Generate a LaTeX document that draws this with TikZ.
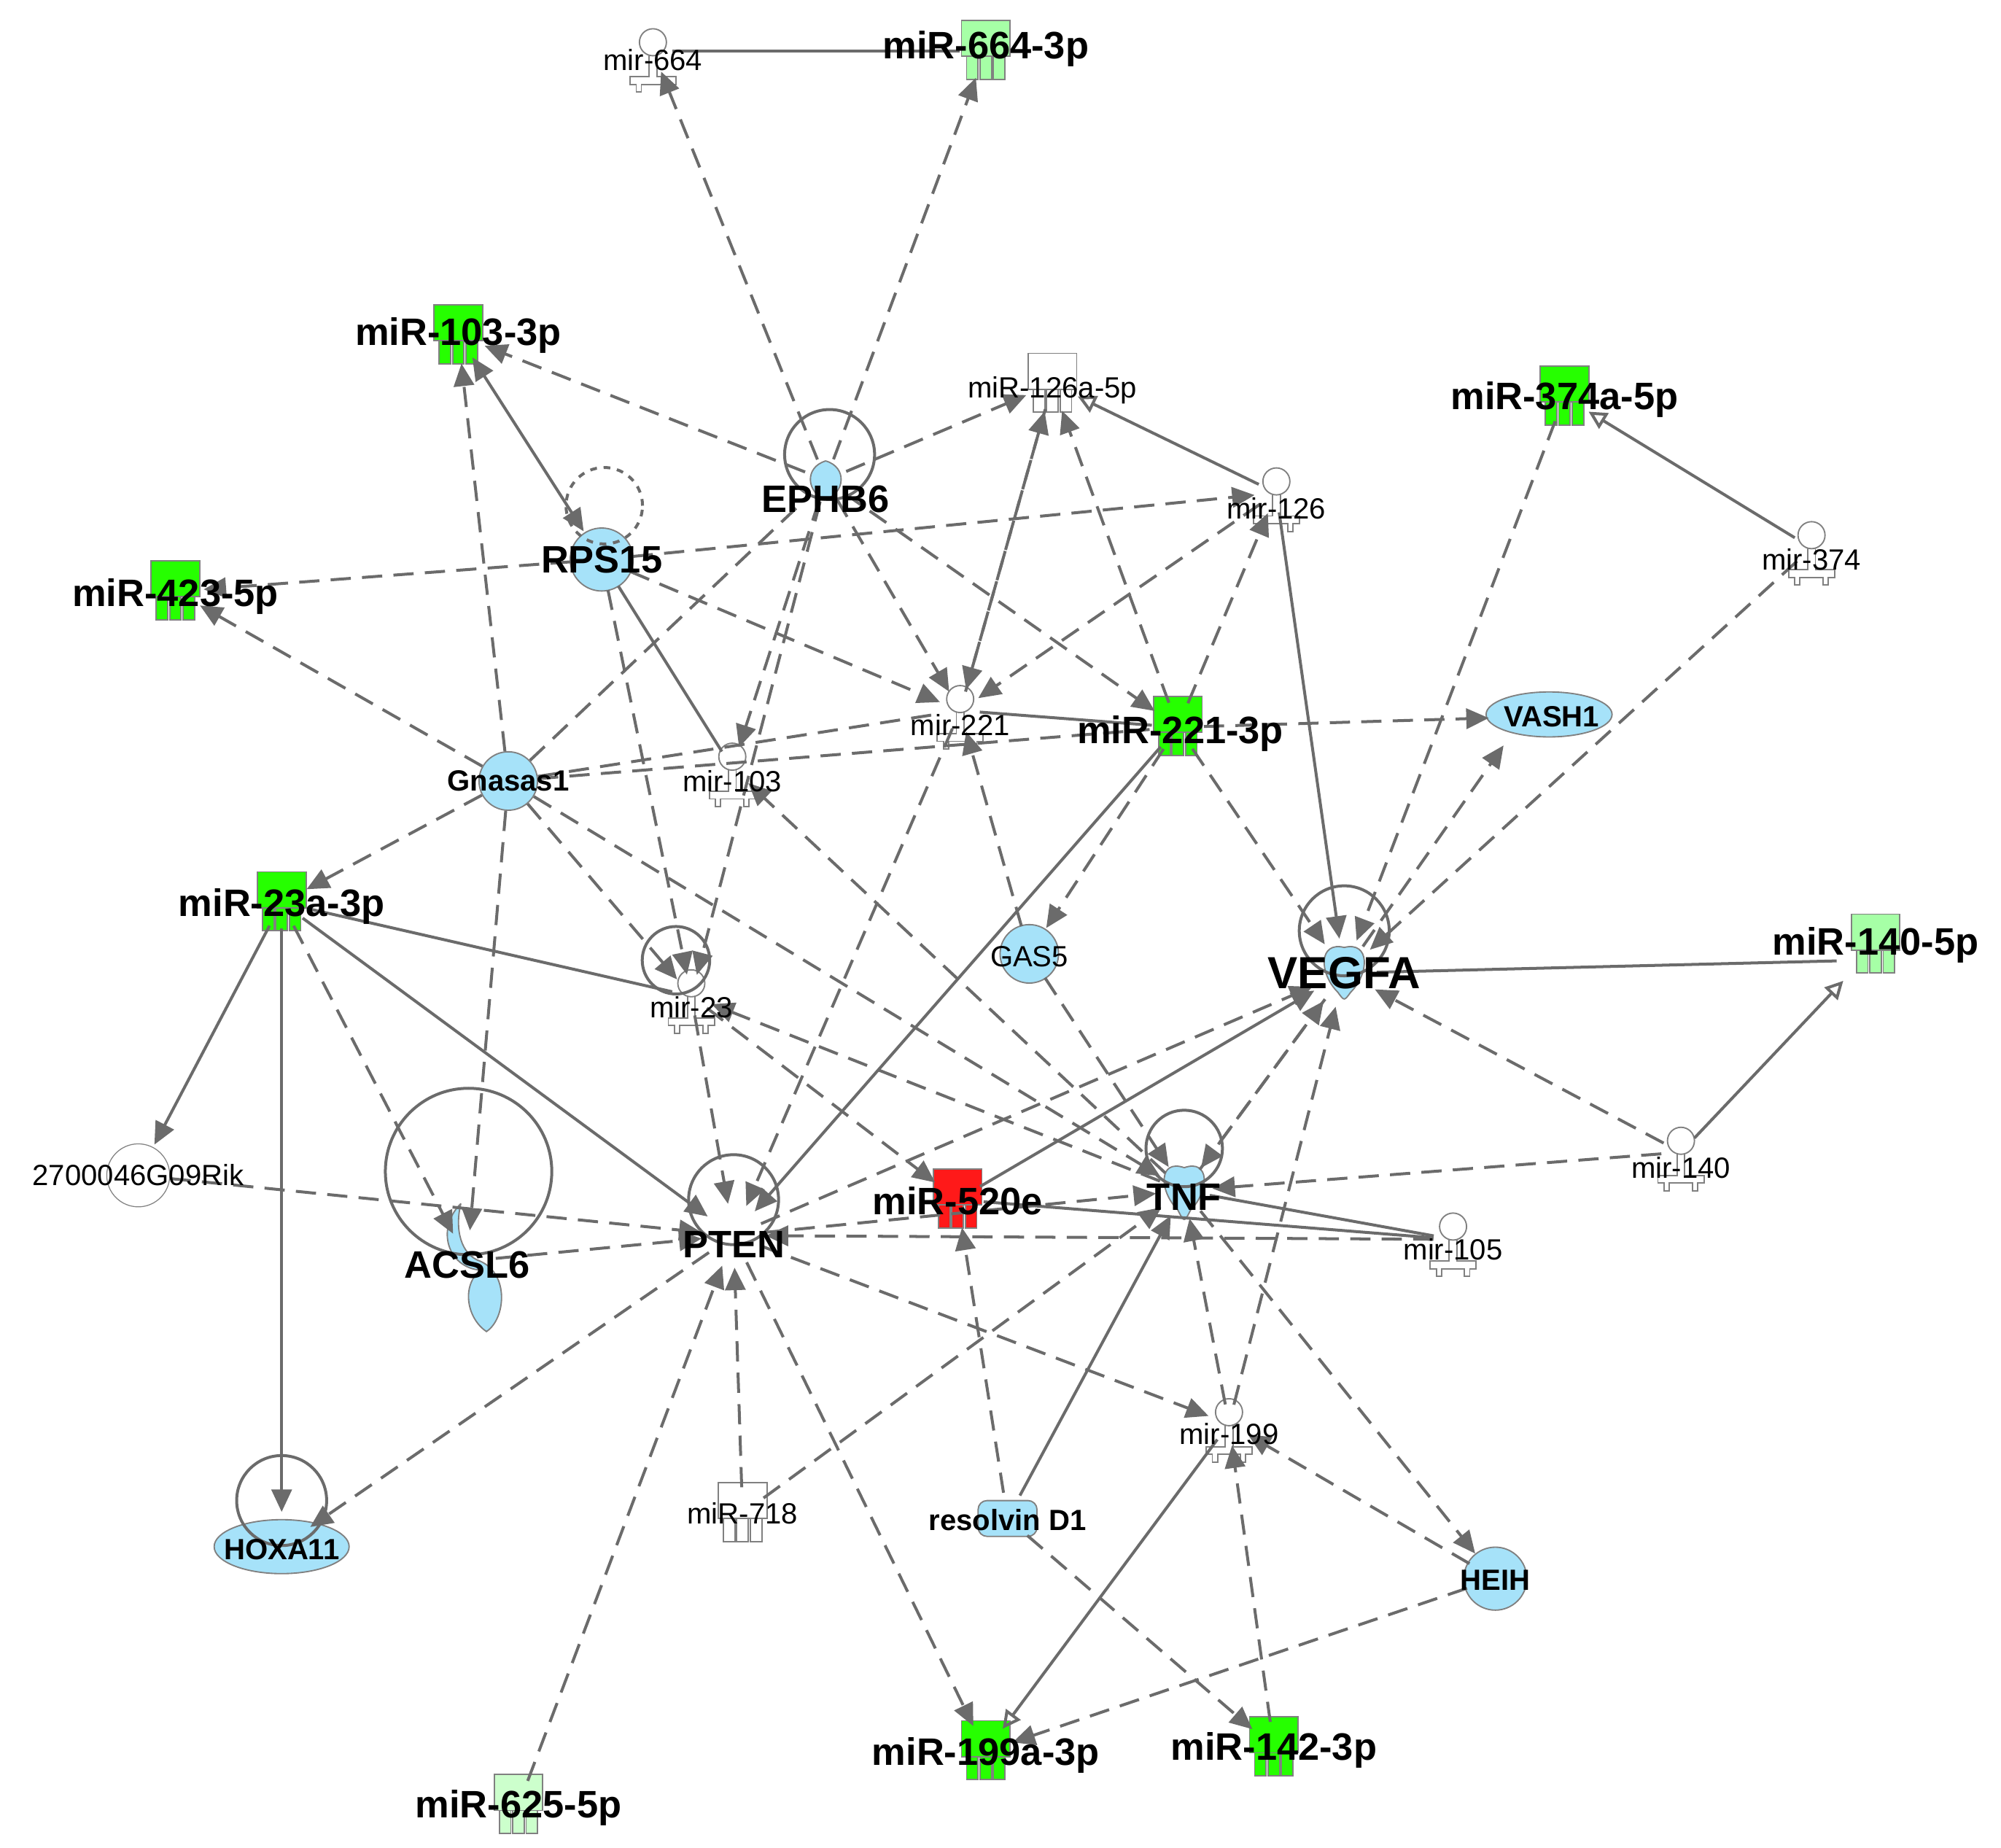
\documentclass[tikz,border=0pt]{standalone}
\usepackage{fontspec}
\setmainfont{Liberation Sans}
\usetikzlibrary{arrows.meta,calc}
\begin{document}
\begin{tikzpicture}[x=0.02cm,y=-0.02cm,
 hub/.style={circle,inner sep=0pt,minimum size=#1*0.02cm},
 ed/.style={draw=black!58,line width=1.3pt,-{Triangle[length=10pt,width=9pt]},shorten >=1pt},
 da/.style={ed,dash pattern=on 9pt off 5pt},
 so/.style={ed},
 sl/.style={draw=black!58,line width=1.3pt},
 big/.style={font=\bfseries\fontsize{17}{17}\selectfont},
 sml/.style={font=\fontsize{13}{13}\selectfont},
 cy/.style={fill=cyan!35,draw=black!50,line width=0.6pt},
 gr/.style={fill=green!80!lime},
 lgr/.style={fill=green!35},
 rd/.style={fill=red!90}]
\useasboundingbox (0,0) rectangle (1563,1443);
\newcommand\mirsq[3]{\begin{scope}[shift={(#1,#2)}]
 \filldraw[#3,draw=black!50,line width=0.6pt] (-19,-24) rectangle (19,4);
 \foreach \i in {-15,-4.5,6}{\filldraw[#3,draw=black!50,line width=0.6pt] (\i,4) rectangle ++(9,18);}
 \end{scope}}
\newcommand\hairpin[2]{\begin{scope}[shift={(#1,#2)}]
 \draw[black!50,fill=white,line width=0.6pt] (-3,-8) -- (-3,10) -- (-18,10) -- (-18,16) -- (-13,16) -- (-13,22) -- (-9,22) -- (-9,16) -- (9,16) -- (9,22) -- (13,22) -- (13,16) -- (18,16) -- (18,10) -- (3,10) -- (3,-8);
 \draw[black!50,fill=white,line width=0.6pt] (0,-17) circle (6pt);
 \end{scope}}
% icons
\mirsq{770}{40}{lgr}\mirsq{358}{262}{gr}\mirsq{822}{300}{fill=white}\mirsq{1222}{310}{gr}
\mirsq{137}{462}{gr}\mirsq{920}{568}{gr}\mirsq{220}{705}{gr}\mirsq{1465}{738}{lgr}
\mirsq{748}{937}{rd}\mirsq{580}{1182}{fill=white}\mirsq{770}{1368}{gr}\mirsq{995}{1365}{gr}\mirsq{405}{1410}{fill=green!20}
\hairpin{510}{50}\hairpin{997}{393}\hairpin{1415}{435}\hairpin{750}{563}\hairpin{572}{608}
\hairpin{540}{785}\hairpin{1313}{908}\hairpin{1135}{975}\hairpin{960}{1120}
\fill[cy] (470,437) circle (14pt);
\fill[cy] (397,610) circle (13pt);
\fill[cy] (804,745) circle (13pt);
\fill[cy] (1168,1233) circle (14pt);
\draw[black!50,fill=white] (108,918) circle (14pt);
\fill[cy] (645,360) .. controls (628,365) and (630,385) .. (645,390) .. controls (660,385) and (662,365) .. (645,360);
\fill[cy] (1050,740) .. controls (1030,735) and (1030,760) .. (1045,775) .. controls (1050,782) and (1050,782) .. (1055,775) .. controls (1070,760) and (1070,735) .. (1050,740);
\fill[cy] (925,912) .. controls (905,905) and (905,930) .. (920,945) .. controls (925,955) and (925,955) .. (930,945) .. controls (945,930) and (945,905) .. (925,912);
\fill[cy] (1210,558) ellipse (28pt and 10pt);
\fill[cy] (360,940) .. controls (340,960) and (350,990) .. (375,992) .. controls (360,1005) and (365,1030) .. (380,1040) .. controls (395,1030) and (398,995) .. (375,985) .. controls (360,980) and (355,960) .. (360,940);
\fill[cy] (220,1208) ellipse (30pt and 12pt);
\fill[cy,rounded corners=4pt] (764,1172) rectangle (810,1200);
% self loops
\draw[sl] (648,355) circle (20pt);
\draw[sl,dashed] (472,395) circle (17pt);
\draw[sl] (366,915) circle (37pt);
\draw[sl] (573,937) circle (20pt);
\draw[sl] (925,897) circle (17pt);
\draw[sl] (1050,727) circle (20pt);
\draw[sl] (528,750) circle (15pt);
\draw[sl] (220,1172) circle (20pt);
% hub nodes
\foreach \n/\x/\y/\s in {m664/510/40/30,m664p/770/40/40,m103p/358/262/40,m126p/822/300/40,m374p/1222/310/40,ephb6/645/375/34,mi126/997/385/30,rps15/470/437/48,mi374/1415/428/30,m423p/137/462/40,mi221/750/555/30,m221p/920/568/40,vash1/1190/560/50,gnas/397/610/46,mi103/572/600/30,m23p/220/705/40,gas5/804/745/44,vegfa/1050/760/50,m140p/1455/750/40,mi23/540/778/30,rik/108/918/50,acsl6/365/985/44,pten/573/965/46,m520/748/937/40,tnf/925/930/40,mi140/1313/900/30,mi105/1135/968/30,mi199/960/1112/30,m718/580/1182/40,resol/787/1186/40,hoxa/220/1208/50,heih/1168/1233/46,m199p/770/1368/40,m142p/995/1365/40,m625p/405/1410/40}
 {\node[hub=\s] (\n) at (\x,\y) {};}
% solid edges
\draw[sl] (m664) -- (m664p);
\draw[so,{Triangle[length=10pt,width=9pt]}-{Triangle[length=10pt,width=9pt]}] (m103p) -- (rps15);
\draw[sl] (rps15) -- (mi103);
\draw[so,-{Triangle[open,length=8pt,width=8pt]}] (mi126) -- (m126p);
\draw[so,-{Triangle[open,length=8pt,width=8pt]}] (mi374) -- (m374p);
\draw[so] (mi126) -- (vegfa);
\draw[so,-{Triangle[open,length=8pt,width=8pt]}] (mi140) -- (m140p);
\draw[sl] (vegfa) -- (m140p);
\draw[so] (m23p) -- (rik);
\draw[so] (m23p) -- (hoxa);
\draw[so] (m23p) -- (pten);
\draw[sl] (m23p) -- (mi23);
\draw[so] (m221p) -- (pten);
\draw[sl] (mi221) -- (m221p);
\draw[so] (m520) -- (vegfa);
\draw[sl] (tnf) -- (mi105);
\draw[sl] (m520) -- (mi105);
\draw[so,-{Triangle[open,length=8pt,width=8pt]}] (mi199) -- (m199p);
\draw[so] (resol) -- (tnf);
% dashed edges
\foreach \a/\b in {ephb6/m664,ephb6/m664p,ephb6/m103p,ephb6/m126p,ephb6/mi221,ephb6/m221p,ephb6/mi103,ephb6/mi23,
 rps15/m423p,rps15/mi221,rps15/mi23,rps15/mi126,
 gnas/m103p,gnas/m23p,gnas/acsl6,gnas/mi23,gnas/m423p,gnas/tnf,
 m23p/acsl6,mi23/pten,mi23/m520,
 m221p/vash1,m221p/gas5,m221p/vegfa,m221p/mi126,m221p/m126p,
 mi221/m126p,m126p/mi221,mi126/mi221,gas5/mi221,gas5/tnf,mi221/pten,tnf/mi103,
 vegfa/vash1,mi374/vegfa,m374p/vegfa,mi140/vegfa,mi140/tnf,tnf/vegfa,vegfa/tnf,
 pten/vegfa,pten/tnf,mi105/pten,acsl6/pten,rik/pten,pten/hoxa,pten/mi199,pten/m199p,
 m718/pten,m625p/pten,m718/tnf,resol/m520,resol/m142p,tnf/heih,heih/mi199,heih/m199p,
 mi199/tnf,m142p/mi199,mi199/vegfa,tnf/mi23}
 {\draw[da] (\a) -- (\b);}
\draw[da,-] (gnas) -- (mi221);
\draw[da,-] (gnas) -- (m221p);
\draw[da,-] (gnas) -- (ephb6);
% labels
\node[sml] (l1) at (510,47) {mir-664};
\node[big] (l2) at (770,38) {miR-664-3p};
\node[big] (l3) at (358,262) {miR-103-3p};
\node[sml] (l4) at (822,305) {miR-126a-5p};
\node[big] (l5) at (1222,312) {miR-374a-5p};
\node[big] (l6) at (645,390) {EPHB6};
\node[sml] (l7) at (997,397) {mir-126};
\node[big] (l8) at (470,437) {RPS15};
\node[sml] (l9) at (1415,437) {mir-374};
\node[big] (l10) at (137,466) {miR-423-5p};
\node[sml] (l11) at (750,566) {mir-221};
\node[big] (l12) at (922,573) {miR-221-3p};
\node[big,font=\bfseries\fontsize{13}{13}\selectfont] (l13) at (1212,560) {VASH1};
\node[big,font=\bfseries\fontsize{13}{13}\selectfont] (l14) at (397,610) {Gnasas1};
\node[sml] (l15) at (572,610) {mir-103};
\node[big] (l16) at (220,708) {miR-23a-3p};
\node[sml] (l17) at (804,747) {GAS5};
\node[big,font=\bfseries\fontsize{20}{20}\selectfont] (l18) at (1050,760) {VEGFA};
\node[big] (l19) at (1465,738) {miR-140-5p};
\node[sml] (l20) at (540,787) {mir-23};
\node[sml] (l21) at (108,918) {2700046G09Rik};
\node[big] (l22) at (365,988) {ACSL6};
\node[big] (l23) at (573,972) {PTEN};
\node[big] (l24) at (748,938) {miR-520e};
\node[big] (l25) at (925,935) {TNF};
\node[sml] (l26) at (1313,912) {mir-140};
\node[sml] (l27) at (1135,976) {mir-105};
\node[sml] (l28) at (960,1120) {mir-199};
\node[sml] (l29) at (580,1182) {miR-718};
\node[big,font=\bfseries\fontsize{13}{13}\selectfont] (l30) at (787,1187) {resolvin D1};
\node[big,font=\bfseries\fontsize{13}{13}\selectfont] (l31) at (220,1210) {HOXA11};
\node[big,font=\bfseries\fontsize{13}{13}\selectfont] (l32) at (1168,1234) {HEIH};
\node[big] (l33) at (770,1371) {miR-199a-3p};
\node[big] (l34) at (995,1367) {miR-142-3p};
\node[big] (l35) at (405,1412) {miR-625-5p};
\end{tikzpicture}
\end{document}
